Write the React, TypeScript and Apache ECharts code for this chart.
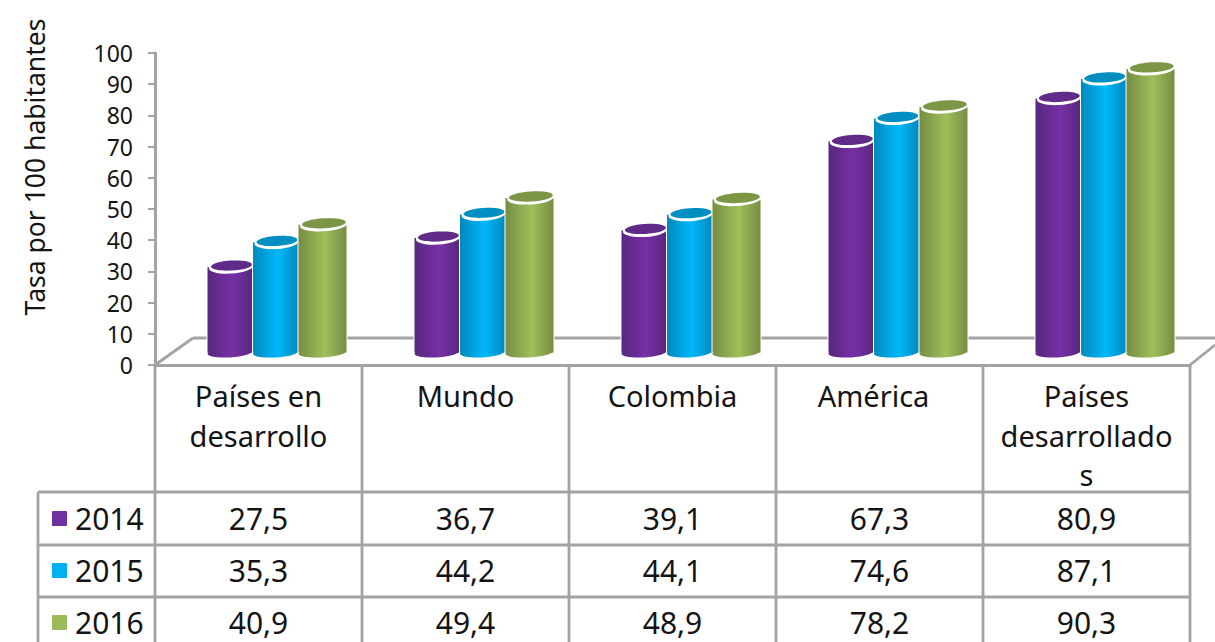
import React, { useEffect, useRef } from "react";
import * as echarts from "echarts";

const categories = ["Países en\ndesarrollo", "Mundo", "Colombia", "América", "Países\ndesarrollado\ns"];
const headerShift = [0, 0, 0, -6, 0];
const years = ["2014", "2015", "2016"];
const values2014 = [27.5, 36.7, 39.1, 67.3, 80.9];
const values2015 = [35.3, 44.2, 44.1, 74.6, 87.1];
const values2016 = [40.9, 49.4, 48.9, 78.2, 90.3];
const labels2014 = ["27,5", "36,7", "39,1", "67,3", "80,9"];
const labels2015 = ["35,3", "44,2", "44,1", "74,6", "87,1"];
const labels2016 = ["40,9", "49,4", "48,9", "78,2", "90,3"];
const yTicks = { min: 0, max: 100, interval: 10 };

const FONT = '"Noto Sans", sans-serif';
const GREY = "#a3a3a3";
const TEXT = "#141414";
const colors = [
  { mid: "#7630A6", edge: "#58277F", top: "#5F2A88", swatch: "#7030A0" },
  { mid: "#00B8FA", edge: "#0089BC", top: "#008FC0", swatch: "#00B0F0" },
  { mid: "#9EC05A", edge: "#768D43", top: "#7D9646", swatch: "#9BBB59" },
];
const slots = [
  { left: -51, width: 45 },
  { left: -5.5, width: 45 },
  { left: 40, width: 48 },
];

const L = 155, R = 1190, T = 53, B = 365;
const colX = [155, 362, 569, 776, 983, 1190];
const rowY = [492, 545, 597];
const rowMid = [518, 570, 622];

function cylinder(seriesIdx: number) {
  const c = colors[seriesIdx];
  const s = slots[seriesIdx];
  return (params: any, api: any) => {
    const cat = api.value(0);
    const v = api.value(1);
    const [cx, yv] = api.coord([cat, v]);
    const [, y0] = api.coord([cat, 0]);
    const base = y0 - 12.5;
    const top = y0 - 11 - (y0 - yv) * 1.012;
    const x = cx + s.left;
    const w = s.width;
    const grad = new echarts.graphic.LinearGradient(0, 0, 1, 0, [
      { offset: 0, color: c.edge },
      { offset: 0.55, color: c.mid },
      { offset: 1, color: c.edge },
    ]);
    const tilt = 0.06;
    return {
      type: "group",
      children: [
        { type: "ellipse", rotation: tilt, originX: x + w / 2, originY: base, shape: { cx: x + w / 2, cy: base, rx: w / 2 + 1, ry: 6 }, style: { fill: "#ffffff" } },
        { type: "rect", shape: { x: x - 1, y: top, width: w + 2, height: base - top }, style: { fill: "#ffffff" } },
        { type: "ellipse", rotation: tilt, originX: x + w / 2, originY: base, shape: { cx: x + w / 2, cy: base, rx: w / 2, ry: 5 }, style: { fill: grad } },
        { type: "rect", shape: { x, y: top, width: w, height: base - top }, style: { fill: grad } },
        { type: "ellipse", rotation: tilt, originX: x + w / 2 + 1, originY: top, shape: { cx: x + w / 2 + 1, cy: top, rx: w / 2 - 0.5, ry: 6.5 }, style: { fill: "#ffffff" } },
        { type: "ellipse", rotation: tilt, originX: x + w / 2 + 1.5, originY: top - 1.5, shape: { cx: x + w / 2 + 1.5, cy: top - 1.5, rx: w / 2 - 2, ry: 5 }, style: { fill: c.top } },
      ],
    };
  };
}

function line(x1: number, y1: number, x2: number, y2: number, lineWidth = 2.8) {
  return { type: "line", z: 0, shape: { x1, y1, x2, y2 }, style: { stroke: GREY, lineWidth } };
}

export default function App() {
  const ref = useRef<HTMLDivElement>(null);
  useEffect(() => {
    const chart = echarts.init(ref.current!, undefined, { renderer: "svg" });
    const rows = [labels2014, labels2015, labels2016];
    const series = [values2014, values2015, values2016].map((vals, i) => ({
      type: "custom",
      name: years[i],
      clip: false,
      z: 3 + i,
      renderItem: cylinder(i),
      encode: { x: 0, y: 1 },
      data: vals.map((v, j) => [j, v]),
    }));
    const graphic: any[] = [
      // axis title
      {
        type: "text",
        z: 5,
        x: 35,
        y: 167,
        rotation: Math.PI / 2,
        style: {
          text: "Tasa por 100 habitantes",
          align: "center",
          verticalAlign: "middle",
          font: `26.5px ${FONT}`,
          fill: TEXT,
        },
      },
      // floor
      line(L, B, 193, 338),
      line(193, 338, 1215, 338),
      line(R, B, 1215, 345),
      // table lines
      ...colX.map((x) => line(x, B, x, 642)),
      ...rowY.map((y) => line(38, y, R, y)),
      line(38, rowY[0], 38, 642),
      // category headers
      ...categories.map((name, i) => ({
        type: "text",
        z: 5,
        style: {
          x: (colX[i] + colX[i + 1]) / 2 + headerShift[i],
          y: 376,
          text: name,
          align: "center",
          verticalAlign: "top",
          font: `29px ${FONT}`,
          lineHeight: 39.5,
          fill: TEXT,
        },
      })),
      // rows
      ...rows.flatMap((row, r) => [
        { type: "rect", z: 5, shape: { x: 52, y: rowMid[r] - 7, width: 15, height: 15, r: 1 }, style: { fill: colors[r].swatch } },
        {
          type: "text",
          z: 5,
          style: { x: 75, y: rowMid[r], text: years[r], align: "left", verticalAlign: "middle", font: `30px ${FONT}`, fill: TEXT },
        },
        ...row.map((t, i) => ({
          type: "text",
          z: 5,
          style: {
            x: (colX[i] + colX[i + 1]) / 2,
            y: rowMid[r],
            text: t,
            align: "center",
            verticalAlign: "middle",
            font: `30px ${FONT}`,
            fill: TEXT,
          },
        })),
      ]),
    ];
    chart.setOption({
      animation: false,
      backgroundColor: "#ffffff",
      grid: { left: L, right: 1215 - R, top: T, bottom: 642 - B, containLabel: false },
      xAxis: {
        type: "category",
        data: categories,
        axisLine: { show: true, lineStyle: { color: GREY, width: 3 } },
        axisTick: { show: false },
        axisLabel: { show: false },
        splitLine: { show: false },
      },
      yAxis: {
        type: "value",
        min: yTicks.min,
        max: yTicks.max,
        interval: yTicks.interval,
        axisLine: { show: true, lineStyle: { color: GREY, width: 3 } },
        axisTick: { show: true, length: 7, lineStyle: { color: GREY, width: 2 } },
        axisLabel: { margin: 22, fontFamily: FONT, fontSize: 23, color: TEXT },
        splitLine: { show: false },
      },
      series,
      graphic,
    });
    return () => chart.dispose();
  }, []);
  return <div ref={ref} style={{ position: "fixed", left: 0, top: 0, width: 1215, height: 642 }} />;
}
